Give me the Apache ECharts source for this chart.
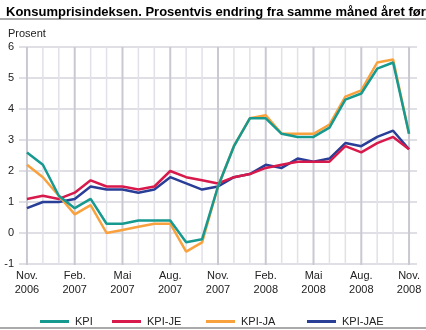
<!DOCTYPE html>
<html>
<head>
<meta charset="utf-8">
<script src="https://cdn.jsdelivr.net/npm/echarts@6/dist/echarts.min.js"></script>
<style>
html,body{margin:0;padding:0;background:#fff;}
#c{width:426px;height:330px;}
</style>
</head>
<body>
<div id="c"></div>
<script>
const categories = ['Nov.\n2006','Des.\n2006','Jan.\n2007','Feb.\n2007','Mar.\n2007','Apr.\n2007','Mai\n2007','Jun.\n2007','Jul.\n2007','Aug.\n2007','Sep.\n2007','Okt.\n2007','Nov.\n2007','Des.\n2007','Jan.\n2008','Feb.\n2008','Mar.\n2008','Apr.\n2008','Mai\n2008','Jun.\n2008','Jul.\n2008','Aug.\n2008','Sep.\n2008','Okt.\n2008','Nov.\n2008'];
const kpi    = [2.6, 2.2, 1.2, 0.8, 1.1, 0.3, 0.3, 0.4, 0.4, 0.4, -0.3, -0.2, 1.5, 2.8, 3.7, 3.7, 3.2, 3.1, 3.1, 3.4, 4.3, 4.5, 5.3, 5.5, 3.2];
const kpiJE  = [1.1, 1.2, 1.1, 1.3, 1.7, 1.5, 1.5, 1.4, 1.5, 2.0, 1.8, 1.7, 1.6, 1.8, 1.9, 2.1, 2.2, 2.3, 2.3, 2.3, 2.8, 2.6, 2.9, 3.1, 2.7];
const kpiJA  = [2.2, 1.8, 1.2, 0.6, 0.9, 0.0, 0.1, 0.2, 0.3, 0.3, -0.6, -0.3, 1.5, 2.8, 3.7, 3.8, 3.2, 3.2, 3.2, 3.5, 4.4, 4.6, 5.5, 5.6, 3.2];
const kpiJAE = [0.8, 1.0, 1.0, 1.1, 1.5, 1.4, 1.4, 1.3, 1.4, 1.8, 1.6, 1.4, 1.5, 1.8, 1.9, 2.2, 2.1, 2.4, 2.3, 2.4, 2.9, 2.8, 3.1, 3.3, 2.7];
const seriesNames = ['KPI', 'KPI-JE', 'KPI-JA', 'KPI-JAE'];
const colors = {'KPI':'#16998f','KPI-JE':'#d8194b','KPI-JA':'#f9a13d','KPI-JAE':'#283e97'};

const FONT = 'Liberation Sans, Arial, sans-serif';
const chart = echarts.init(document.getElementById('c'), null, {renderer:'canvas'});

function lineSeries(name, data, z) {
  return {
    name: name, type: 'line', data: data, symbol: 'none', z: z,
    lineStyle: {color: colors[name], width: 2.5},
    itemStyle: {color: colors[name]},
    emphasis: {disabled: true}, silent: true
  };
}

function legendAt(name, left) {
  return {
    data: [name], left: left, top: 311, icon: 'rect', itemWidth: 29, itemHeight: 3,
    itemGap: 0, selectedMode: false,
    textStyle: {fontFamily: FONT, fontSize: 11, color: '#222', padding: [0,0,0,1]}
  };
}

chart.setOption({
  animation: false,
  backgroundColor: '#fff',
  title: {
    text: 'Konsumprisindeksen. Prosentvis endring fra samme måned året før',
    left: 1, top: 1,
    textStyle: {fontFamily: FONT, fontSize: 13, fontWeight: 'bold', color: '#000'}
  },
  graphic: [
    {type:'rect', shape:{x:0, y:18, width:426, height:2}, style:{fill:'#aaaaaa'}, silent:true},
    {type:'rect', shape:{x:0, y:327, width:426, height:2}, style:{fill:'#aaaaaa'}, silent:true},
    {type:'text', left: 8, top: 28, style:{text:'Prosent', font:'11px ' + FONT, fill:'#222'}}
  ],
  legend: [
    legendAt('KPI', 35),
    legendAt('KPI-JE', 107),
    legendAt('KPI-JA', 201),
    legendAt('KPI-JAE', 302)
  ],
  grid: {left: 19, right: 9, top: 47, bottom: 66, containLabel: false},
  xAxis: {
    type: 'category', data: categories, boundaryGap: true,
    axisLine: {show: false}, axisTick: {show: false}, splitLine: {show: false},
    axisLabel: {interval: 2, margin: 5, fontFamily: FONT, fontSize: 11, lineHeight: 14, color: '#222'}
  },
  yAxis: {
    type: 'value', min: -1, max: 6, interval: 1,
    axisLine: {show: false}, axisTick: {show: false},
    splitLine: {lineStyle: {color: '#d4d4dc', width: 1.5}},
    axisLabel: {margin: 5, fontFamily: FONT, fontSize: 11, color: '#222'}
  },
  series: [
    {
      type: 'custom', z: 1, silent: true,
      data: categories.map((c, i) => [i]),
      encode: {x: 0},
      renderItem: function (params, api) {
        const i = api.value(0);
        const x = api.coord([i, 0])[0];
        const cs = params.coordSys;
        const major = i % 3 === 0;
        return {
          type: 'line',
          shape: {x1: x, y1: cs.y, x2: x, y2: cs.y + cs.height + 1},
          style: {stroke: major ? '#c9c9d2' : '#e1e1e8', lineWidth: major ? 2 : 1.5}
        };
      }
    },
    lineSeries('KPI-JAE', kpiJAE, 2),
    lineSeries('KPI-JE', kpiJE, 3),
    lineSeries('KPI-JA', kpiJA, 4),
    lineSeries('KPI', kpi, 5)
  ]
});
</script>
</body>
</html>
